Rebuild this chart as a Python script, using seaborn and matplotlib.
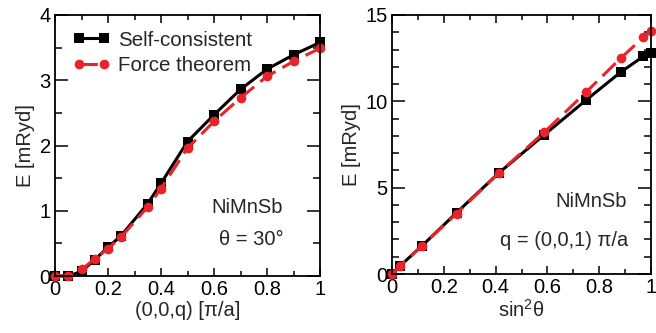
import numpy as np
import pandas as pd
import matplotlib
matplotlib.use("Agg")
import matplotlib.pyplot as plt
import seaborn as sns
from matplotlib.ticker import MultipleLocator

# Left panel data: E vs q at theta = 30 deg
q_vals = [0, 0.05, 0.1, 0.15, 0.2, 0.25, 0.35, 0.4, 0.5, 0.6, 0.7, 0.8, 0.9, 1.0]
e_sc_q = [0, 0, 0.07, 0.25, 0.44, 0.62, 1.11, 1.42, 2.06, 2.47, 2.86, 3.17, 3.39, 3.58]
e_ft_q = [0, 0, 0.10, 0.26, 0.42, 0.60, 1.06, 1.34, 1.96, 2.37, 2.73, 3.06, 3.29, 3.49]

# Right panel data: E vs sin^2(theta) at q = (0,0,1) pi/a
s2_vals = [0, 0.030, 0.117, 0.25, 0.413, 0.587, 0.75, 0.883, 0.970, 1.0]
e_sc_t = [0, 0.45, 1.65, 3.56, 5.86, 8.05, 10.08, 11.69, 12.6, 12.8]
e_ft_t = [0, 0.45, 1.65, 3.50, 5.86, 8.20, 10.54, 12.50, 13.7, 14.1]

sc_label = "Self-consistent"
ft_label = "Force theorem"

sns.set_style("ticks")
plt.rcParams['font.family'] = ['Liberation Sans', 'DejaVu Sans']
plt.rcParams['mathtext.fontset'] = 'custom'
plt.rcParams['mathtext.rm'] = 'Liberation Sans'
plt.rcParams['mathtext.it'] = 'Liberation Sans'

FS_TICK = 14.5
FS_LAB = 14.5
FS_LEG = 14.8
FS_ANN = 14.5

fig = plt.figure(figsize=(6.56, 3.33), dpi=100)
ax1 = fig.add_axes([55/656, 1-276/333, (320-55)/656, (276-15)/333])
ax2 = fig.add_axes([392/656, 1-274/333, (651-392)/656, (274-15)/333])

def draw(ax, x, sc, ft):
    df = pd.DataFrame({
        "x": list(x) + list(x),
        "E": list(sc) + list(ft),
        "method": [sc_label]*len(x) + [ft_label]*len(x),
    })
    sns.lineplot(data=df, x="x", y="E", hue="method", style="method",
                 palette={sc_label: "black", ft_label: "#e8232a"},
                 markers={sc_label: "s", ft_label: "o"},
                 dashes={sc_label: "", ft_label: (6, 2.6)},
                 markersize=7, markeredgewidth=0, linewidth=2.2,
                 ax=ax, sort=False, clip_on=False)
    for sp in ax.spines.values():
        sp.set_linewidth(1.3)
        sp.set_color("black")
    ax.tick_params(which="both", direction="in", top=True, right=True,
                   labelsize=FS_TICK, width=1.1, colors="black", pad=3)
    ax.tick_params(axis="y", which="major", length=9.5)
    ax.tick_params(axis="y", which="minor", length=5)
    ax.tick_params(axis="x", which="major", length=6)
    ax.tick_params(axis="x", which="minor", length=3.5)
    ax.set_xlim(0, 1)
    ax.xaxis.set_major_locator(MultipleLocator(0.2))
    ax.xaxis.set_minor_locator(MultipleLocator(0.1))
    ax.xaxis.set_major_formatter(matplotlib.ticker.FuncFormatter(
        lambda v, p: "0" if abs(v) < 1e-9 else ("1" if abs(v-1) < 1e-9 else f"{v:.1f}")))

draw(ax1, q_vals, e_sc_q, e_ft_q)
ax1.set_ylim(0, 4)
ax1.yaxis.set_major_locator(MultipleLocator(1))
ax1.yaxis.set_minor_locator(MultipleLocator(0.5))
ax1.set_xlabel("(0,0,q) [π/a]", fontsize=FS_LAB, labelpad=1)
ax1.set_ylabel("E [mRyd]", fontsize=FS_LAB, labelpad=3)
ax1.get_legend().remove()
handles, labels = ax1.get_legend_handles_labels()
leg = ax1.legend(handles, labels, loc="upper left", frameon=False, fontsize=FS_LEG,
                 handlelength=1.8, borderaxespad=0.0, borderpad=0.0,
                 labelspacing=0.3, handletextpad=0.4, numpoints=2,
                 bbox_to_anchor=(0.068, 0.94))
for h in leg.legend_handles:
    h.set_markersize(7)
ax1.text(0.860, 0.264, "NiMnSb", transform=ax1.transAxes, ha="right",
         va="center", fontsize=FS_ANN)
ax1.text(0.864, 0.138, "θ = 30°", transform=ax1.transAxes, ha="right",
         va="center", fontsize=FS_ANN)

draw(ax2, s2_vals, e_sc_t, e_ft_t)
ax2.set_ylim(0, 15)
ax2.yaxis.set_major_locator(MultipleLocator(5))
ax2.yaxis.set_minor_locator(MultipleLocator(1))
ax2.set_xlabel(r"sin$^{2}$θ", fontsize=FS_LAB, labelpad=1)
ax2.set_ylabel("E [mRyd]", fontsize=FS_LAB, labelpad=3)
ax2.get_legend().remove()
ax2.text(0.907, 0.278, "NiMnSb", transform=ax2.transAxes, ha="right",
         va="center", fontsize=FS_ANN)
ax2.text(0.911, 0.131, "q = (0,0,1) π/a", transform=ax2.transAxes, ha="right",
         va="center", fontsize=FS_ANN)

fig.savefig("out.png", dpi=100)
